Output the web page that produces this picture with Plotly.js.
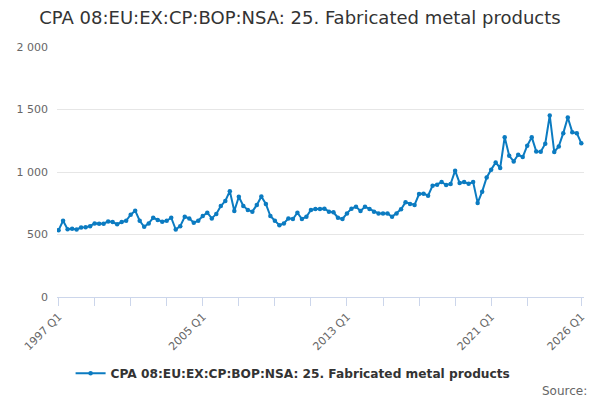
<!DOCTYPE html>
<html>
<head>
<meta charset="utf-8">
<script src="https://cdn.plot.ly/plotly-3.0.1.min.js"></script>
<style>
  html, body { margin: 0; padding: 0; background: #fff; }
  #chart { width: 600px; height: 400px; }
</style>
</head>
<body>
<div id="chart"></div>
<script>
// series name and values, one per quarter from 1997 Q1 to 2026 Q1
var seriesName = "CPA 08:EU:EX:CP:BOP:NSA: 25. Fabricated metal products";
var firstYear = 1997;
var values = [
    535, 610, 543, 546, 540, 556, 559, 567, 589, 586,
    586, 605, 600, 583, 600, 610, 659, 691, 610, 562,
    589, 634, 616, 602, 610, 634, 540, 567, 642, 629,
    594, 610, 648, 675, 629, 664, 728, 768, 847, 688,
    802, 729, 696, 683, 737, 804, 745, 648, 610, 575,
    589, 629, 624, 675, 624, 642, 696, 704, 704, 707,
    683, 678, 634, 624, 669, 707, 723, 688, 723, 704,
    683, 669, 669, 669, 642, 669, 702, 758, 745, 737,
    824, 827, 811, 891, 899, 920, 896, 904, 1011, 912,
    920, 907, 920, 753, 843, 957, 1019, 1077, 1032, 1279,
    1130, 1085, 1138, 1120, 1210, 1279, 1165, 1162, 1226, 1452,
    1160, 1205, 1311, 1436, 1319, 1311, 1231
];
// which quarters get a tick, and which of those get a label
var tickQuarters = ["1997 Q1", "1999 Q1", "2001 Q1", "2003 Q1", "2005 Q1", "2007 Q1", "2009 Q1",
                    "2011 Q1", "2013 Q1", "2015 Q1", "2017 Q1", "2019 Q1", "2021 Q1", "2023 Q1", "2026 Q1"];
var labelQuarters = ["1997 Q1", "2005 Q1", "2013 Q1", "2021 Q1", "2026 Q1"];

var quarters = [];
for (var iii = 0; iii < values.length; iii++)
{
    quarters.push((firstYear + Math.floor(iii / 4)) + " Q" + (iii % 4 + 1));
}

var tickText = [];
for (iii = 0; iii < tickQuarters.length; iii++)
{
    tickText.push(labelQuarters.indexOf(tickQuarters[iii]) >= 0 ? tickQuarters[iii] : "");
}

var colour = "#0b7bc1";
var trace1 =
{
    x: quarters,
    y: values,
    type: "scatter",
    mode: "lines+markers",
    name: seriesName,
    line: {color: colour, width: 2},
    marker: {color: colour, size: 4.5, symbol: "circle"},
    hoverinfo: "x+y"
};

var layout =
{
    width: 600,
    height: 400,
    paper_bgcolor: "#fff",
    plot_bgcolor: "#fff",
    separators: ". ",
    font: {family: "DejaVu Sans, sans-serif", color: "#666"},
    margin: {l: 57, r: 16, t: 47, b: 103},
    title: {
        text: seriesName,
        font: {family: "DejaVu Sans, sans-serif", size: 18, color: "#333"},
        x: 0.5, xanchor: "center", xref: "container",
        y: 0.955, yanchor: "middle"
    },
    xaxis: {
        type: "category",
        range: [-0.35, values.length - 0.4],
        tickmode: "array",
        tickvals: tickQuarters,
        ticktext: tickText,
        tickangle: -45,
        ticks: "outside",
        ticklen: 8,
        tickcolor: "#ccd6eb",
        tickwidth: 1,
        showline: true,
        linecolor: "#ccd6eb",
        linewidth: 1,
        showgrid: false,
        zeroline: false,
        tickfont: {size: 11, color: "#666"}
    },
    yaxis: {
        range: [0, 2000],
        tickvals: [0, 500, 1000, 1500, 2000],
        tickformat: ",d",
        showgrid: true,
        gridcolor: "#e6e6e6",
        gridwidth: 1,
        zeroline: false,
        showline: false,
        ticks: "",
        ticklabelstandoff: 8,
        tickfont: {size: 11, color: "#666"}
    },
    showlegend: true,
    legend: {
        orientation: "h",
        x: 0.448, xanchor: "center",
        y: -0.305, yanchor: "middle",
        font: {size: 12.2, color: "#333", weight: "bold"},
        itemwidth: 30
    },
    annotations: [{
        text: "Source:",
        xref: "paper", yref: "paper",
        x: 1.01, y: -0.375,
        xanchor: "right", yanchor: "middle",
        showarrow: false,
        font: {size: 12, color: "#666"}
    }]
};

Plotly.newPlot("chart", [trace1], layout, {displayModeBar: false, staticPlot: true});
</script>
</body>
</html>
